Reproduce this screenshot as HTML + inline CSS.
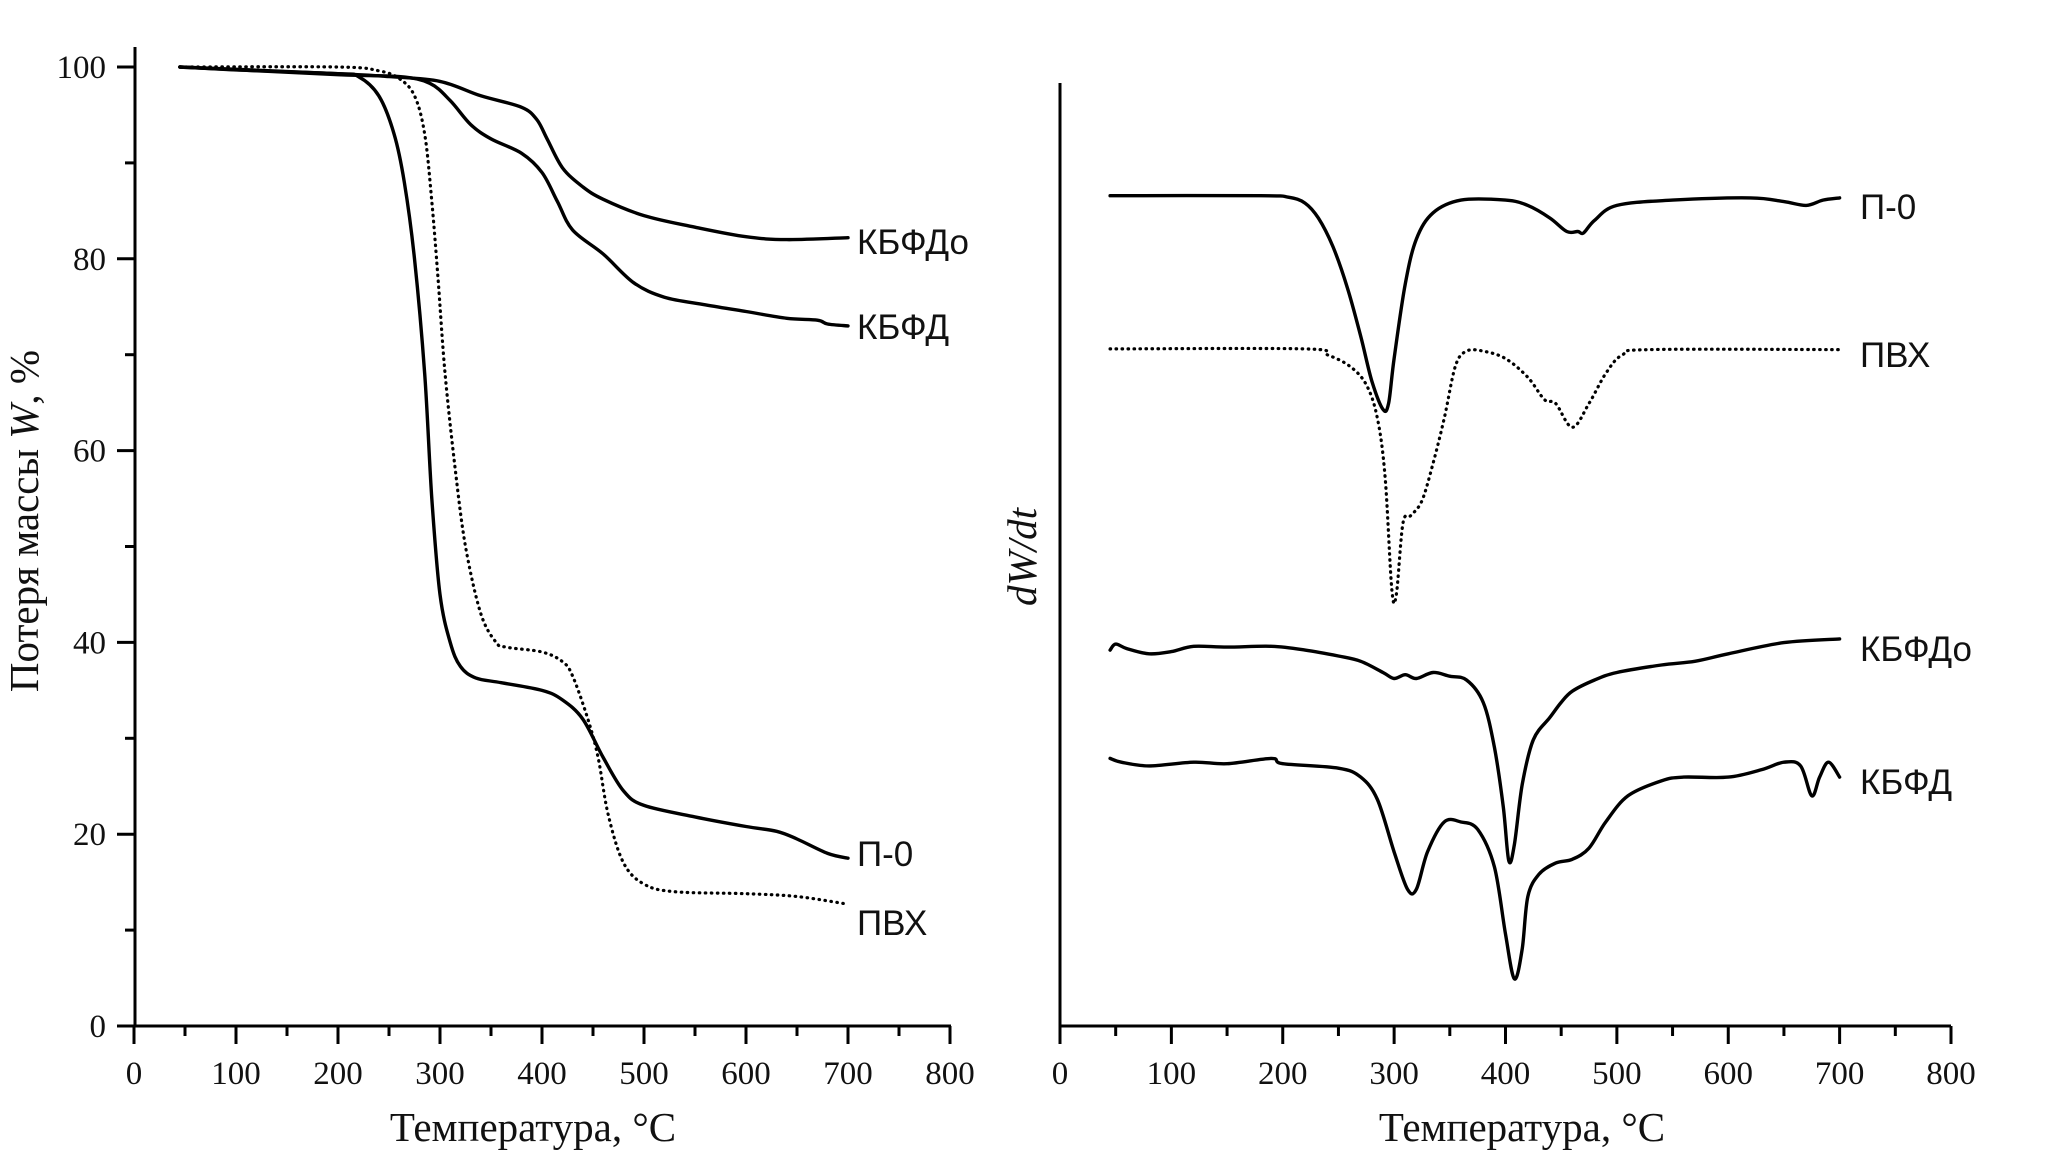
<!DOCTYPE html>
<html><head><meta charset="utf-8"><style>
html,body{margin:0;padding:0;background:#fff;}
svg{display:block;}
.tick{font-family:"Liberation Serif",serif;font-size:33px;fill:#111;}
.ttl{font-family:"Liberation Serif",serif;font-size:41px;fill:#111;}
.lbl{font-family:"Liberation Sans",sans-serif;font-size:35px;fill:#111;}
</style></head><body>
<svg id="chart" width="2067" height="1171" viewBox="0 0 2067 1171" xmlns="http://www.w3.org/2000/svg">
<g id="left"></g>
<g id="right"></g>
</svg>
<script>
// ---- Left panel data (TGA, mass %)
const tP0 = [45,100,200,220,240,255,265,275,285,292,300,310,320,335,360,400,420,440,460,480,500,550,600,630,650,680,700];
const wP0 = [100,99.7,99.3,99,97,93,88,80,68,55,45,40,37.5,36.3,35.8,35,34,32,28,24.5,23,21.8,20.8,20.3,19.5,18,17.5];
const tPVC = [45,200,240,260,275,285,292,298,305,315,325,340,355,365,400,420,430,445,455,465,480,500,530,600,650,700];
const wPVC = [100,100,99.6,98.8,97,93,86,78,68,58,50,43,40,39.5,39,38,36.5,32,28,22,17,14.8,14,13.8,13.5,12.7];
const tKo = [45,200,250,300,340,380,395,405,420,440,460,500,550,600,640,700];
const wKo = [100,99.3,99,98.5,97,95.8,94.5,92.5,89.5,87.5,86.2,84.5,83.3,82.3,82,82.2];
const tK = [45,200,260,290,310,330,350,380,400,415,430,460,490,520,560,600,640,670,680,700];
const wK = [100,99.2,99,98.3,96.5,94,92.5,91,89,86,83,80.5,77.5,76,75.2,74.5,73.8,73.6,73.2,73];
const xTicks = [0,100,200,300,400,500,600,700,800];
const yTicksL = [0,20,40,60,80,100];
// ---- Right panel data (DTG, arbitrary units)
const dtP0 = [45,180,205,220,232,245,258,270,280,290,295,300,310,320,335,360,400,420,440,455,465,470,480,500,550,620,650,670,685,700];
const dvP0 = [-262,-262,-264,-272,-292,-330,-385,-450,-510,-548,-540,-480,-380,-320,-285,-268,-268,-275,-292,-310,-310,-312,-295,-275,-268,-265,-270,-275,-268,-265];
const dtPVC = [45,220,240,260,275,285,292,298,302,308,315,325,335,345,355,365,380,400,420,435,445,460,475,490,505,530,700];
const dvPVC = [-467,-467,-475,-490,-515,-560,-640,-790,-795,-700,-690,-670,-620,-560,-490,-470,-470,-480,-505,-535,-540,-572,-540,-500,-475,-468,-468];
const dtKo = [45,50,60,80,100,120,150,190,220,250,270,290,300,310,320,335,350,365,380,390,398,403,408,415,425,440,450,460,480,500,540,570,600,650,700];
const dvKo = [-870,-862,-868,-875,-872,-865,-866,-865,-870,-878,-885,-900,-908,-903,-908,-900,-905,-910,-940,-1000,-1080,-1152,-1130,-1050,-990,-960,-940,-925,-910,-900,-890,-885,-875,-860,-855];
const dtK = [45,55,80,120,150,190,200,250,270,285,300,312,320,330,345,360,375,390,400,408,415,420,430,445,460,475,490,510,540,560,600,630,650,665,675,682,690,700];
const dvK = [-1015,-1020,-1025,-1020,-1022,-1015,-1022,-1028,-1040,-1070,-1140,-1190,-1190,-1140,-1100,-1100,-1110,-1160,-1250,-1310,-1270,-1200,-1170,-1155,-1150,-1135,-1100,-1065,-1045,-1040,-1040,-1030,-1020,-1025,-1065,-1040,-1020,-1040];

const NS='http://www.w3.org/2000/svg';
function mk(tag,attrs,parent){const e=document.createElementNS(NS,tag);for(const k in attrs)e.setAttribute(k,attrs[k]);parent.appendChild(e);return e;}
const xL = t => 134 + t*(950-134)/800;
const yL = w => 1026 - w*(1026-67)/100;
const xR = t => 1060 + t*(1951-1060)/800;
const yR = v => 1026 - (v+1373)/1.338;
function smooth(pts){
  let d='M'+pts[0][0].toFixed(1)+','+pts[0][1].toFixed(1);
  for(let i=0;i<pts.length-1;i++){
    const p0=pts[Math.max(0,i-1)],p1=pts[i],p2=pts[i+1],p3=pts[Math.min(pts.length-1,i+2)];
    const c1=[p1[0]+(p2[0]-p0[0])/6,p1[1]+(p2[1]-p0[1])/6];
    const c2=[p2[0]-(p3[0]-p1[0])/6,p2[1]-(p3[1]-p1[1])/6];
    d+='C'+c1.map(v=>v.toFixed(1)).join(',')+' '+c2.map(v=>v.toFixed(1)).join(',')+' '+p2[0].toFixed(1)+','+p2[1].toFixed(1);
  }
  return d;
}
const L=document.getElementById('left'), R=document.getElementById('right');
// Left axes
let a=mk('line',{x1:135,y1:47,x2:135,y2:1026,stroke:'#000','stroke-width':3},L);


a=mk('line',{x1:118,y1:1026,x2:951,y2:1026,stroke:'#000','stroke-width':3},L);


for(let w=0;w<=100;w+=10){
  const major=w%20===0;
  mk('line',{x1:135-(major?18:10),y1:yL(w),x2:135,y2:yL(w),stroke:'#000','stroke-width':3},L);
}
yTicksL.forEach(w=>{
  const t=mk('text',{x:106,y:yL(w)+11,'text-anchor':'end',class:'tick'},L);
  t.textContent=w;
  
  
});
for(let t=0;t<=800;t+=50){
  const major=t%100===0;
  mk('line',{x1:xL(t),y1:1026,x2:xL(t),y2:1026+(major?18:10),stroke:'#000','stroke-width':3},L);
  mk('line',{x1:xR(t),y1:1026,x2:xR(t),y2:1026+(major?18:10),stroke:'#000','stroke-width':3},R);
}
xTicks.forEach(t=>{
  let e=mk('text',{x:xL(t),y:1084,'text-anchor':'middle',class:'tick'},L);
  e.textContent=t;
  
  
  e=mk('text',{x:xR(t),y:1084,'text-anchor':'middle',class:'tick'},R);
  e.textContent=t;
  
  
});
let tt=mk('text',{x:533,y:1141,'text-anchor':'middle',class:'ttl'},L);
tt.textContent='Температура, °C';


tt=mk('text',{x:1522,y:1141,'text-anchor':'middle',class:'ttl'},R);
tt.textContent='Температура, °C';


tt=mk('text',{x:0,y:0,'text-anchor':'middle',class:'ttl',transform:'translate(38,521) rotate(-90)'},L);
tt.innerHTML='Потеря массы <tspan font-style="italic">W</tspan>, %';


tt=mk('text',{x:0,y:0,'text-anchor':'middle',class:'ttl','font-style':'italic',transform:'translate(1036,557) rotate(-90)'},R);
tt.textContent='dW/dt';


// Right axes
a=mk('line',{x1:1060,y1:83,x2:1060,y2:1026,stroke:'#000','stroke-width':3},R);


a=mk('line',{x1:1060,y1:1026,x2:1951,y2:1026,stroke:'#000','stroke-width':3},R);


// Series
function series(parent,ts,vs,fx,fy,dotted,name){
  const p=mk('path',{d:smooth(ts.map((t,i)=>[fx(t),fy(vs[i])])),fill:'none',stroke:'#000','stroke-width':dotted?3:3.4,'stroke-linecap':'round','stroke-linejoin':'round'},parent);
  if(dotted){p.setAttribute('stroke-dasharray','0.5,5.5');p.setAttribute('stroke-width',3.2);}
  
  
}
series(L,tP0,wP0,xL,yL,false,'tga-p0-line');
series(L,tPVC,wPVC,xL,yL,true,'tga-pvc-line');
series(L,tKo,wKo,xL,yL,false,'tga-kbfdo-line');
series(L,tK,wK,xL,yL,false,'tga-kbfd-line');
series(R,dtP0,dvP0,xR,yR,false,'dtg-p0-line');
series(R,dtPVC,dvPVC,xR,yR,true,'dtg-pvc-line');
series(R,dtKo,dvKo,xR,yR,false,'dtg-kbfdo-line');
series(R,dtK,dvK,xR,yR,false,'dtg-kbfd-line');
function label(parent,x,y,txt,name){
  const e=mk('text',{x:x,y:y,class:'lbl'},parent);
  e.textContent=txt;
  
  
}
label(L,857,254,'КБФДо','label-kbfdo-left');
label(L,857,339,'КБФД','label-kbfd-left');
label(L,857,866,'П-0','label-p0-left');
label(L,857,935,'ПВХ','label-pvc-left');
label(R,1860,219,'П-0','label-p0-right');
label(R,1860,367,'ПВХ','label-pvc-right');
label(R,1860,661,'КБФДо','label-kbfdo-right');
label(R,1860,794,'КБФД','label-kbfd-right');
</script>
</body></html>
